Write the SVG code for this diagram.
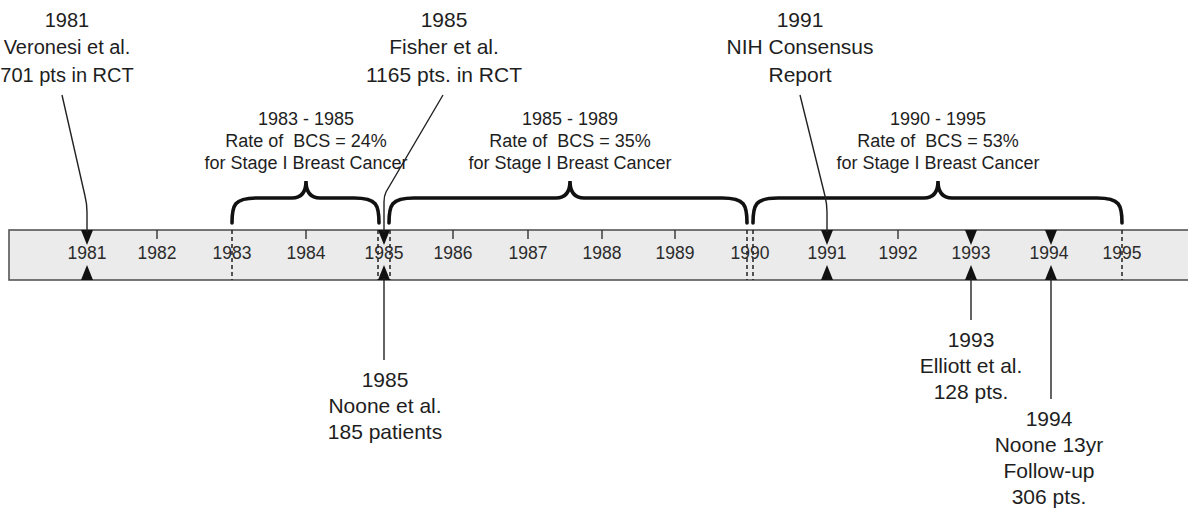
<svg xmlns="http://www.w3.org/2000/svg" width="1188" height="508" viewBox="0 0 1188 508">
<style>
text{font-family:"Liberation Sans",Arial,sans-serif;fill:#1e1e1e;text-anchor:middle}
.ev{font-size:21px}
.evs{font-size:20px}
.br{font-size:18px;white-space:pre}
.yr{font-size:17.5px;fill:#2a2a2a}
.conn{fill:none;stroke:#222;stroke-width:1.4}
.brace{fill:none;stroke:#111;stroke-width:3.6;stroke-linecap:round}
.dash{stroke:#222;stroke-width:1.5;stroke-dasharray:4 3}
.tick{stroke:#333;stroke-width:1.4}
.tri{fill:#111}
</style>
<rect width="1188" height="508" fill="#fff"/>
<g id="timeline">
<rect x="9" y="230" width="1195" height="50" fill="#ebebeb" stroke="#555" stroke-width="1.6"/>
<line class="tick" x1="157" y1="230" x2="157" y2="239"/>
<line class="tick" x1="306" y1="230" x2="306" y2="239"/>
<line class="tick" x1="453" y1="230" x2="453" y2="239"/>
<line class="tick" x1="528" y1="230" x2="528" y2="239"/>
<line class="tick" x1="602" y1="230" x2="602" y2="239"/>
<line class="tick" x1="675" y1="230" x2="675" y2="239"/>
<line class="tick" x1="898" y1="230" x2="898" y2="239"/>
<line class="dash" x1="232" y1="230" x2="232" y2="280"/>
<line class="dash" x1="378" y1="230" x2="378" y2="280"/>
<line class="dash" x1="390" y1="230" x2="390" y2="280"/>
<line class="dash" x1="747" y1="230" x2="747" y2="280"/>
<line class="dash" x1="753" y1="230" x2="753" y2="280"/>
<line class="dash" x1="1122" y1="230" x2="1122" y2="280"/>
<text class="yr" x="87" y="259">1981</text>
<text class="yr" x="157" y="259">1982</text>
<text class="yr" x="232" y="259">1983</text>
<text class="yr" x="306" y="259">1984</text>
<text class="yr" x="384" y="259">1985</text>
<text class="yr" x="453" y="259">1986</text>
<text class="yr" x="528" y="259">1987</text>
<text class="yr" x="602" y="259">1988</text>
<text class="yr" x="675" y="259">1989</text>
<text class="yr" x="750" y="259">1990</text>
<text class="yr" x="827" y="259">1991</text>
<text class="yr" x="898" y="259">1992</text>
<text class="yr" x="971" y="259">1993</text>
<text class="yr" x="1049" y="259">1994</text>
<text class="yr" x="1122" y="259">1995</text>
<polygon class="tri" points="81,230 93,230 87,245"/>
<polygon class="tri" points="81,280 93,280 87,265"/>
<polygon class="tri" points="378,230 390,230 384,245"/>
<polygon class="tri" points="378,280 390,280 384,265"/>
<polygon class="tri" points="821,230 833,230 827,245"/>
<polygon class="tri" points="821,280 833,280 827,265"/>
<polygon class="tri" points="965,230 977,230 971,245"/>
<polygon class="tri" points="965,280 977,280 971,265"/>
<polygon class="tri" points="1045,230 1057,230 1051,245"/>
<polygon class="tri" points="1045,280 1057,280 1051,265"/>
</g>
<g id="brace-1983-1985">
<path class="brace" d="M232,223 C232,205 234,198 257,198 L292,198 C302,198 306,192 306,181 C306,192 310,198 320,198 L354,198 C377,198 379,205 379,223"/>
<text class="br" x="306" y="125">1983 - 1985</text>
<text class="br" x="306" y="147">Rate of  BCS = 24%</text>
<text class="br" x="306" y="169">for Stage I Breast Cancer</text>
</g>
<g id="brace-1985-1989">
<path class="brace" d="M389,223 C389,205 391,198 414,198 L556,198 C566,198 570,192 570,181 C570,192 574,198 584,198 L722,198 C745,198 747,205 747,223"/>
<text class="br" x="570" y="125">1985 - 1989</text>
<text class="br" x="570" y="147">Rate of  BCS = 35%</text>
<text class="br" x="570" y="169">for Stage I Breast Cancer</text>
</g>
<g id="brace-1990-1995">
<path class="brace" d="M753,223 C753,205 755,198 778,198 L924,198 C934,198 938,192 938,181 C938,192 942,198 952,198 L1097,198 C1120,198 1122,205 1122,223"/>
<text class="br" x="938" y="125">1990 - 1995</text>
<text class="br" x="938" y="147">Rate of  BCS = 53%</text>
<text class="br" x="938" y="169">for Stage I Breast Cancer</text>
</g>
<g id="ev-veronesi">
<text class="evs" x="67" y="27">1981</text>
<text class="evs" x="67" y="54">Veronesi et al.</text>
<text class="evs" x="67" y="82">701 pts in RCT</text>
</g>
<g id="ev-fisher">
<text class="ev" x="444" y="27">1985</text>
<text class="ev" x="444" y="54">Fisher et al.</text>
<text class="ev" x="444" y="82">1165 pts. in RCT</text>
</g>
<g id="ev-nih">
<text class="ev" x="800" y="27">1991</text>
<text class="ev" x="800" y="54">NIH Consensus</text>
<text class="ev" x="800" y="82">Report</text>
</g>
<g id="ev-noone1985">
<text class="ev" x="385" y="387">1985</text>
<text class="ev" x="385" y="413">Noone et al.</text>
<text class="ev" x="385" y="439">185 patients</text>
</g>
<g id="ev-elliott">
<text class="ev" x="971" y="347">1993</text>
<text class="ev" x="971" y="373">Elliott et al.</text>
<text class="ev" x="971" y="399">128 pts.</text>
</g>
<g id="ev-noone1994">
<text class="ev" x="1049" y="426">1994</text>
<text class="ev" x="1049" y="452">Noone 13yr</text>
<text class="ev" x="1049" y="478">Follow-up</text>
<text class="ev" x="1049" y="504">306 pts.</text>
</g>
<g id="connectors">
<path class="conn" d="M62,95 L85,196 Q87,204 87,212 L87,232"/>
<path class="conn" d="M443,95 L386,192 Q384,196 384,202 L384,232"/>
<path class="conn" d="M800,95 L825,196 Q827,204 827,212 L827,232"/>
<line class="conn" x1="384" y1="278" x2="384" y2="360"/>
<line class="conn" x1="971" y1="278" x2="971" y2="320"/>
<line class="conn" x1="1051" y1="278" x2="1051" y2="399"/>
</g>
</svg>
